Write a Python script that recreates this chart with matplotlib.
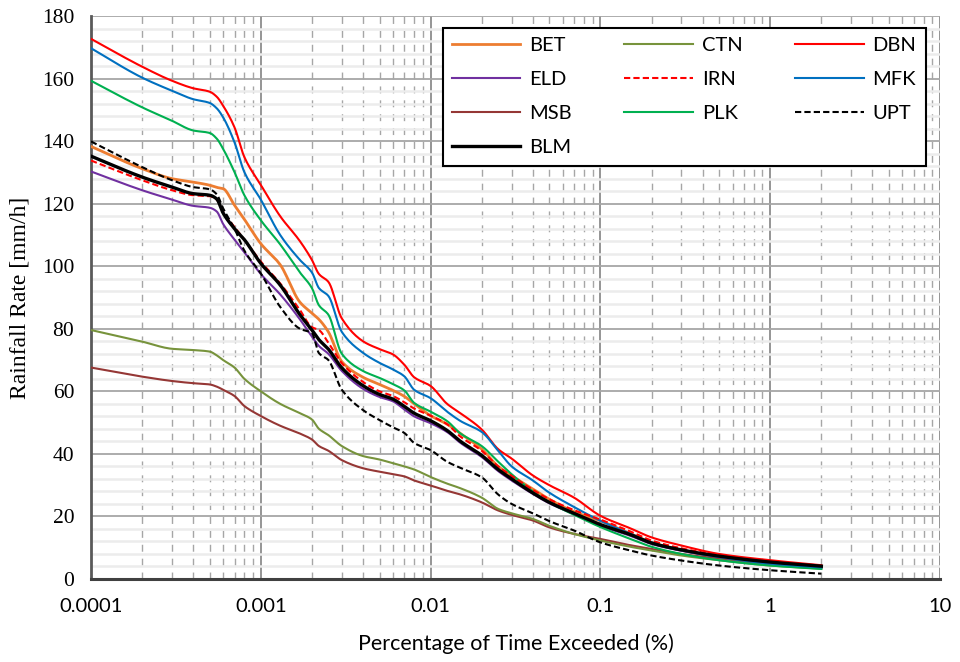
import numpy as np
import matplotlib
matplotlib.use("Agg")
import matplotlib.pyplot as plt
from matplotlib.ticker import FixedLocator, MultipleLocator, NullFormatter

# percentage of time exceeded (%)
pct = [0.0001, 0.0002, 0.0003, 0.0004, 0.0005, 0.00055, 0.0006, 0.0007, 0.0008,
       0.001, 0.0013, 0.0017, 0.002, 0.0022, 0.0025, 0.003, 0.004, 0.005, 0.006,
       0.007, 0.008, 0.01, 0.0125, 0.015, 0.02, 0.025, 0.03, 0.04, 0.05, 0.07,
       0.1, 0.15, 0.2, 0.3, 0.5, 1, 2]

# rainfall rate (mm/h) per station
BET = [138.3, 131.2, 128.0, 126.9, 125.9, 125.2, 124.8, 119.5, 115.0, 107.2, 100.5, 88.5,
       85.0, 83.0, 79.0, 69.5, 64.5, 62.2, 60.3, 58.4, 56.0, 52.2, 49.5, 46.5, 41.5, 36.0,
       33.0, 28.8, 25.5, 21.5, 18.6, 14.5, 11.7, 9.2, 7.0, 5.0, 3.9]
CTN = [79.6, 75.9, 73.6, 73.2, 72.7, 71.5, 70.0, 67.6, 64.0, 60.0, 56.0, 53.0, 51.0, 48.0,
       46.0, 42.5, 39.3, 38.2, 37.0, 36.0, 35.0, 32.6, 30.5, 29.0, 26.0, 22.4, 21.0, 19.2,
       17.0, 14.4, 12.3, 10.3, 9.1, 7.5, 6.0, 4.3, 3.3]
DBN = [172.7, 163.8, 159.3, 156.9, 155.8, 154.2, 151.3, 144.4, 134.9, 126.0, 116.0, 108.0,
       102.0, 97.5, 95.0, 83.3, 76.0, 73.5, 71.8, 68.5, 64.5, 61.7, 56.0, 53.0, 47.8, 41.5,
       38.5, 33.1, 30.0, 26.0, 20.2, 16.2, 13.3, 10.7, 8.0, 6.0, 4.4]
ELD = [130.3, 124.3, 121.3, 119.3, 118.7, 117.5, 113.5, 108.5, 104.5, 97.5, 91.0, 83.0,
       77.5, 74.5, 72.0, 66.5, 60.8, 58.2, 56.8, 54.2, 52.0, 49.8, 47.0, 43.5, 39.0, 34.5,
       31.5, 27.2, 24.2, 20.7, 17.0, 13.8, 11.2, 9.0, 7.0, 5.1, 3.9]
IRN = [133.8, 127.5, 124.3, 122.7, 122.4, 121.3, 117.5, 112.5, 108.5, 101.5, 94.5, 86.0,
       80.5, 79.6, 75.5, 69.0, 63.0, 60.0, 58.5, 56.5, 54.5, 52.2, 49.5, 45.5, 41.0, 36.0,
       33.0, 28.5, 25.5, 22.0, 19.0, 15.2, 12.3, 9.8, 7.6, 5.6, 4.2]
MFK = [169.7, 160.3, 156.1, 153.4, 152.2, 150.5, 147.6, 139.6, 130.1, 121.3, 110.0, 102.0,
       98.0, 93.0, 90.5, 79.0, 72.3, 69.1, 67.0, 64.8, 60.5, 57.8, 53.5, 50.5, 47.0, 41.0,
       36.0, 31.5, 27.6, 23.0, 18.6, 14.5, 11.7, 9.2, 7.0, 4.9, 3.7]
MSB = [67.6, 64.7, 63.3, 62.6, 62.2, 61.5, 60.5, 58.5, 55.3, 52.1, 49.0, 46.5, 44.6, 42.5,
       41.0, 38.0, 35.4, 34.3, 33.5, 32.8, 31.5, 29.9, 28.2, 27.0, 24.5, 21.9, 20.5, 18.7,
       16.5, 14.4, 12.8, 10.8, 9.6, 8.0, 6.5, 4.7, 3.5]
PLK = [159.3, 150.8, 146.5, 143.4, 142.6, 140.8, 137.5, 130.1, 122.7, 114.7, 107.0, 98.0,
       93.0, 87.5, 84.5, 72.0, 66.5, 64.3, 62.3, 60.3, 56.3, 53.5, 50.5, 46.5, 42.5, 37.5,
       33.5, 28.0, 24.5, 20.5, 16.6, 12.8, 10.3, 8.0, 6.0, 4.3, 3.2]
UPT = [139.9, 131.7, 127.5, 125.3, 124.6, 123.0, 118.5, 112.0, 105.0, 97.7, 87.0, 80.0,
       78.6, 72.2, 70.0, 60.5, 54.0, 50.8, 48.5, 46.7, 43.5, 41.2, 37.5, 35.5, 32.5, 27.0,
       24.0, 21.0, 18.5, 15.5, 11.7, 9.1, 7.5, 5.9, 4.3, 2.8, 1.7]
BLM = [135.2, 128.5, 125.3, 123.2, 122.7, 121.5, 117.0, 112.0, 108.5, 100.9, 94.0, 84.5,
       79.6, 76.5, 73.5, 67.5, 61.8, 59.0, 57.5, 55.2, 53.0, 50.6, 47.5, 44.0, 39.5, 35.0,
       32.0, 27.5, 24.5, 21.0, 17.4, 14.2, 11.5, 9.3, 7.3, 5.4, 4.1]


def smooth(x, y, n=12):
    # monotone cubic (Fritsch-Carlson) in log10(x), like Excel's smoothed lines
    lx = np.log10(np.asarray(x, float))
    y = np.asarray(y, float)
    h = np.diff(lx)
    d = np.diff(y) / h
    m = np.zeros_like(y)
    m[0], m[-1] = d[0], d[-1]
    for i in range(1, len(y) - 1):
        if d[i - 1] * d[i] > 0:
            w1 = 2 * h[i] + h[i - 1]
            w2 = h[i] + 2 * h[i - 1]
            m[i] = (w1 + w2) / (w1 / d[i - 1] + w2 / d[i])
    xs, ys = [], []
    for i in range(len(h)):
        t = np.linspace(0, 1, n, endpoint=False)
        h00 = 2 * t**3 - 3 * t**2 + 1
        h10 = t**3 - 2 * t**2 + t
        h01 = -2 * t**3 + 3 * t**2
        h11 = t**3 - t**2
        xs.append(lx[i] + t * h[i])
        ys.append(h00 * y[i] + h10 * h[i] * m[i] + h01 * y[i + 1] + h11 * h[i] * m[i + 1])
    xs.append([lx[-1]])
    ys.append([y[-1]])
    return 10 ** np.concatenate(xs), np.concatenate(ys)


sans = ["Lato", "DejaVu Sans"]
serif = ["Liberation Serif", "DejaVu Serif"]

fig = plt.figure(figsize=(9.6, 6.62), dpi=100)
ax = fig.add_axes([0.0948, 0.1254, 0.8844, 0.8504])

styles = [
    ("BET", BET, "#ED7D31", "-", 2.0),
    ("ELD", ELD, "#7030A0", "-", 1.5),
    ("MSB", MSB, "#953735", "-", 1.5),
    ("BLM", BLM, "black", "-", 2.4),
    ("CTN", CTN, "#77933C", "-", 1.5),
    ("IRN", IRN, "#FF0000", (0, (3, 1.5)), 1.5),
    ("PLK", PLK, "#00B050", "-", 1.5),
    ("DBN", DBN, "#FF0000", "-", 1.5),
    ("MFK", MFK, "#0070C0", "-", 1.5),
    ("UPT", UPT, "black", (0, (3, 1.5)), 1.5),
]
zorders = {"BLM": 5, "IRN": 4, "UPT": 4}
for name, vals, col, ls, lw in styles:
    sx, sy = smooth(pct, vals)
    ax.plot(sx, sy, color=col, linestyle=ls, linewidth=lw, label=name,
            zorder=zorders.get(name, 3))

ax.set_xscale("log")
ax.set_xlim(0.0001, 10)
ax.set_ylim(0, 180)

ax.xaxis.set_major_locator(FixedLocator([0.0001, 0.001, 0.01, 0.1, 1, 10]))
ax.set_xticklabels(["0.0001", "0.001", "0.01", "0.1", "1", "10"])
minors = [m * 10.0 ** e for e in range(-4, 1) for m in range(2, 10)]
ax.xaxis.set_minor_locator(FixedLocator(minors))
ax.xaxis.set_minor_formatter(NullFormatter())
ax.yaxis.set_major_locator(MultipleLocator(20))
ax.yaxis.set_minor_locator(MultipleLocator(4))

ax.grid(True, which="minor", axis="y", color="#ececec", linewidth=1.8, zorder=0)
ax.grid(True, which="major", axis="y", color="#a6a6a6", linewidth=1.3, zorder=1)
ax.grid(True, which="minor", axis="x", color="#a6a6a6", linewidth=1.0,
        linestyle=(0, (5, 5)), zorder=1)
ax.grid(True, which="major", axis="x", color="#8c8c8c", linewidth=1.3, zorder=1)
ax.set_axisbelow(True)

ax.tick_params(which="both", length=0)
ax.tick_params(axis="x", pad=14)
ax.tick_params(axis="y", pad=12)
for lab in ax.get_xticklabels():
    lab.set_family(sans)
    lab.set_fontsize(14.5)
for lab in ax.get_yticklabels():
    lab.set_family(serif)
    lab.set_fontsize(15.5)

for s in ["top", "right"]:
    ax.spines[s].set_visible(False)
ax.spines["left"].set_color("#595959")
ax.spines["left"].set_linewidth(2)
ax.spines["bottom"].set_color("#404040")
ax.spines["bottom"].set_linewidth(2.2)

ax.set_xlabel("Percentage of Time Exceeded (%)", family=sans, fontsize=15.5, labelpad=13)
ax.set_ylabel("Rainfall Rate [mm/h]", family=serif, fontsize=17, labelpad=8)

leg = ax.legend(ncol=3, loc="upper right", bbox_to_anchor=(0.99, 0.99),
                prop={"family": sans, "size": 14.5}, frameon=True, fancybox=False,
                handlelength=3.4, handletextpad=0.45, columnspacing=2.6,
                labelspacing=0.85, borderpad=0.45, borderaxespad=0.3)
leg.get_frame().set_edgecolor("black")
leg.get_frame().set_linewidth(1.5)
leg.get_frame().set_alpha(1)

fig.savefig("out.png", dpi=100)
